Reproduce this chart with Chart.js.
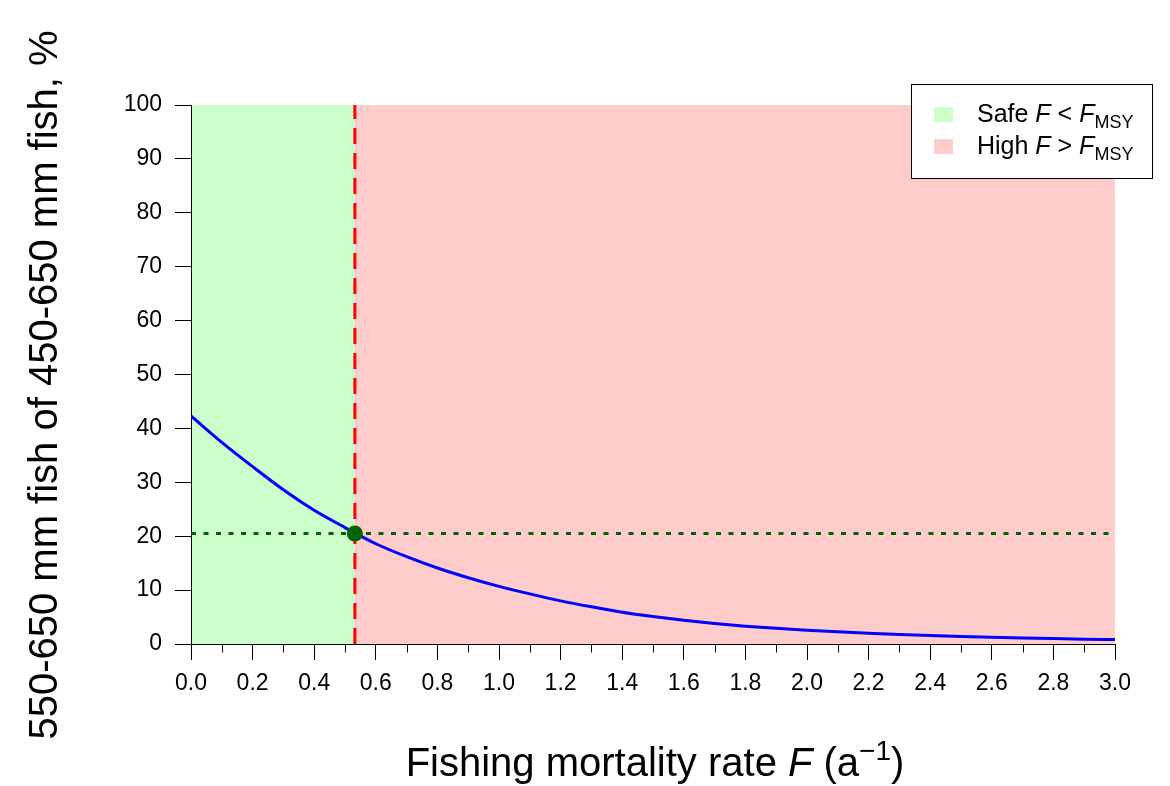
<!DOCTYPE html>
<html>
<head>
<meta charset="utf-8">
<title>Fishing mortality</title>
<script src="https://cdn.jsdelivr.net/npm/chart.js@4/dist/chart.umd.min.js"></script>
<style>
    html, body { margin: 0; padding: 0; background: #fff; }
    #wrap { width: 1170px; height: 786px; position: relative; }
</style>
</head>
<body>
<div id="wrap"><canvas id="myChart"></canvas></div>
<script>
// data
const fValues = [0.0, 0.1, 0.2, 0.3, 0.4, 0.5, 0.6, 0.7, 0.8, 0.9, 1.0,
    1.1, 1.2, 1.3, 1.4, 1.5, 1.6, 1.7, 1.8, 1.9, 2.0,
    2.1, 2.2, 2.3, 2.4, 2.5, 2.6, 2.7, 2.8, 2.9, 3.0];
const pctValues = [42.3, 37.4, 32.9, 28.6, 24.8, 21.6, 18.6, 16.2, 14.1, 12.3, 10.7,
    9.3, 8.0, 6.9, 5.9, 5.1, 4.4, 3.8, 3.3, 2.9, 2.55,
    2.25, 2.0, 1.78, 1.58, 1.4, 1.25, 1.12, 1.0, 0.9, 0.82];
const fMsy = 0.532;
const pctAtFmsy = 20.5;

// zones
const zoneStart = [0.0, fMsy];
const zoneEnd = [fMsy, 3.0];
const zoneColors = ['#ccffcc', '#ffcccc'];
const zoneNames = ['Safe ', 'High '];
const zoneOps = [' < ', ' > '];

const xMin = 0, xMax = 3.0, yMin = 0, yMax = 100;
const fam = "'Liberation Sans', Arial, sans-serif";

function drawRuns(ctx, runs, x, y, align) {
    let total = 0;
    runs.forEach(r => {
        ctx.font = r.font;
        r.w = ctx.measureText(r.text).width;
        total += r.w;
    });
    let cx = align === 'center' ? x - total / 2 : x;
    ctx.textAlign = 'left';
    ctx.textBaseline = 'alphabetic';
    runs.forEach(r => {
        ctx.font = r.font;
        ctx.fillText(r.text, cx, y + (r.dy || 0));
        cx += r.w;
    });
}

//Background zones
const zonePlugin = {
    id: 'zones',
    beforeDraw(chart) {
        const {ctx, scales: {x, y}} = chart;
        const top = y.getPixelForValue(yMax);
        const bottom = y.getPixelForValue(yMin);
        ctx.save();
        for (let i = 0; i < zoneStart.length; i++) {
            const l = x.getPixelForValue(zoneStart[i]);
            const r = x.getPixelForValue(zoneEnd[i]);
            ctx.fillStyle = zoneColors[i];
            ctx.fillRect(l, top, r - l, bottom - top);
        }
        ctx.restore();
    }
};

//Titles, legend, minor ticks
const decoPlugin = {
    id: 'deco',
    afterDraw(chart) {
        const {ctx, scales: {x, y}, chartArea} = chart;
        ctx.save();
        ctx.fillStyle = '#000';
        ctx.strokeStyle = '#000';
        ctx.lineWidth = 1;

        // minor ticks
        const base = Math.round(y.getPixelForValue(yMin)) + 0.5;
        for (let v = 0.1; v < xMax; v += 0.2) {
            const px = Math.round(x.getPixelForValue(v)) + 0.5;
            ctx.beginPath();
            ctx.moveTo(px, base);
            ctx.lineTo(px, base + 8);
            ctx.stroke();
        }

        // x title
        const cxMid = (chartArea.left + chartArea.right) / 2;
        drawRuns(ctx, [
            {text: 'Fishing mortality rate ', font: `40px ${fam}`},
            {text: 'F', font: `italic 40px ${fam}`},
            {text: ' (a', font: `40px ${fam}`},
            {text: '\u22121', font: `28px ${fam}`, dy: -16},
            {text: ')', font: `40px ${fam}`}
        ], cxMid + 2, 776, 'center');

        // y title
        ctx.save();
        ctx.translate(57, 385);
        ctx.rotate(-Math.PI / 2);
        drawRuns(ctx, [
            {text: '550-650 mm fish of 450-650 mm fish, %', font: `40px ${fam}`}
        ], 0, 0, 'center');
        ctx.restore();

        // legend
        ctx.fillStyle = '#fff';
        ctx.fillRect(911, 84, 241, 94);
        ctx.strokeRect(911.5, 84.5, 241, 94);
        for (let i = 0; i < zoneNames.length; i++) {
            const rowY = 107 + i * 32;
            ctx.fillStyle = zoneColors[i];
            ctx.fillRect(934, rowY, 19, 15);
            ctx.fillStyle = '#000';
            drawRuns(ctx, [
                {text: zoneNames[i], font: `25px ${fam}`},
                {text: 'F', font: `italic 25px ${fam}`},
                {text: zoneOps[i], font: `25px ${fam}`},
                {text: 'F', font: `italic 25px ${fam}`},
                {text: 'MSY', font: `18px ${fam}`, dy: 6}
            ], 977, rowY + 15, 'left');
        }
        ctx.restore();
    }
};

const ctx = document.getElementById('myChart');
new Chart(ctx, {
    type: 'scatter',
    data: {
        datasets: [
            {
                label: 'F_MSY',
                data: [{x: fMsy, y: pctAtFmsy}],
                pointRadius: 8,
                backgroundColor: '#006400',
                borderColor: '#006400',
                borderWidth: 0
            },
            {
                label: 'share',
                data: fValues.map((f, i) => ({x: f, y: pctValues[i]})),
                showLine: true,
                borderColor: '#0000ff',
                borderWidth: 3,
                pointRadius: 0,
                cubicInterpolationMode: 'monotone'
            },
            {
                label: 'Fmsy line',
                data: [{x: fMsy, y: yMin}, {x: fMsy, y: yMax}],
                showLine: true,
                borderColor: '#ff0000',
                borderWidth: 3,
                borderDash: [16, 9],
                pointRadius: 0
            },
            {
                label: 'ref line',
                data: [{x: xMin, y: pctAtFmsy}, {x: xMax, y: pctAtFmsy}],
                showLine: true,
                borderColor: '#006400',
                borderWidth: 3,
                borderDash: [5, 7.5],
                pointRadius: 0
            }
        ]
    },
    options: {
        responsive: true,
        maintainAspectRatio: false,
        animation: false,
        events: [],
        layout: {padding: {left: 0, right: 55, top: 105, bottom: 0}},
        plugins: {
            legend: {display: false},
            tooltip: {enabled: false}
        },
        scales: {
            x: {
                type: 'linear',
                min: xMin,
                max: xMax,
                afterFit: (s) => { s.height = 142; },
                grid: {drawOnChartArea: false, tickLength: 16, tickColor: '#000'},
                border: {color: '#000', width: 1},
                ticks: {
                    stepSize: 0.2,
                    autoSkip: false,
                    maxRotation: 0,
                    padding: 10,
                    color: '#000',
                    font: {family: fam, size: 23},
                    callback: (v) => v.toFixed(1)
                }
            },
            y: {
                min: yMin,
                max: yMax,
                afterFit: (s) => { s.width = 191; },
                grid: {drawOnChartArea: false, tickLength: 16, tickColor: '#000'},
                border: {color: '#000', width: 1},
                ticks: {
                    stepSize: 10,
                    padding: 13,
                    color: '#000',
                    font: {family: fam, size: 23}
                }
            }
        }
    },
    plugins: [zonePlugin, decoPlugin]
});
</script>
</body>
</html>
